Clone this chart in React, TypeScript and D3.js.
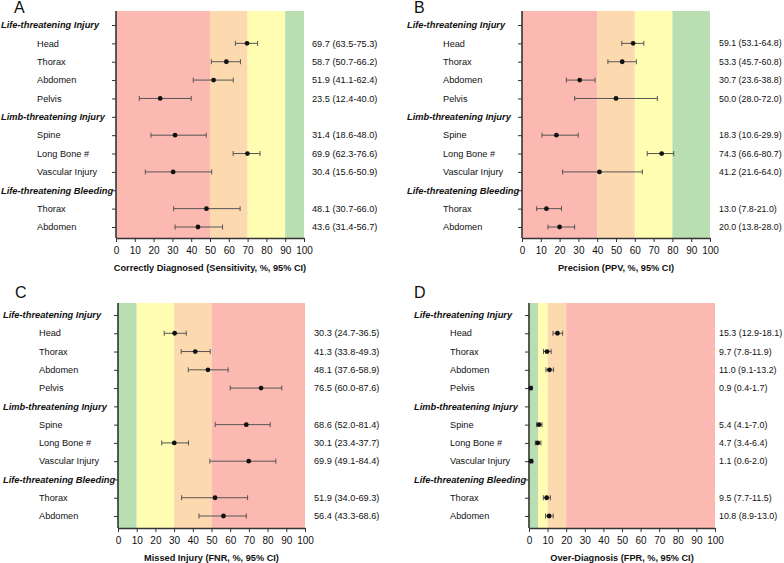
import * as d3 from "d3";
import React, { useEffect, useRef } from "react";

// row labels (headers are drawn bold italic)
const rowLabels = [
  "Life-threatening Injury",
  "Head",
  "Thorax",
  "Abdomen",
  "Pelvis",
  "Limb-threatening Injury",
  "Spine",
  "Long Bone #",
  "Vascular Injury",
  "Life-threatening Bleeding",
  "Thorax",
  "Abdomen",
];
const headerRows = [0, 5, 9];
const itemRows = [1, 2, 3, 4, 6, 7, 8, 10, 11];

// A: sensitivity
const sensEst = [69.7, 58.7, 51.9, 23.5, 31.4, 69.9, 30.4, 48.1, 43.6];
const sensLo = [63.5, 50.7, 41.1, 12.4, 18.6, 62.3, 15.6, 30.7, 31.4];
const sensHi = [75.3, 66.2, 62.4, 40.0, 48.0, 76.6, 50.9, 66.0, 56.7];

// B: precision
const ppvEst = [59.1, 53.3, 30.7, 50.0, 18.3, 74.3, 41.2, 13.0, 20.0];
const ppvLo = [53.1, 45.7, 23.6, 28.0, 10.6, 66.6, 21.6, 7.8, 13.8];
const ppvHi = [64.8, 60.8, 38.8, 72.0, 29.9, 80.7, 64.0, 21.0, 28.0];

// C: missed injury
const fnrEst = [30.3, 41.3, 48.1, 76.5, 68.6, 30.1, 69.9, 51.9, 56.4];
const fnrLo = [24.7, 33.8, 37.6, 60.0, 52.0, 23.4, 49.1, 34.0, 43.3];
const fnrHi = [36.5, 49.3, 58.9, 87.6, 81.4, 37.7, 84.4, 69.3, 68.6];

// D: over-diagnosis
const fprEst = [15.3, 9.7, 11.0, 0.9, 5.4, 4.7, 1.1, 9.5, 10.8];
const fprLo = [12.9, 7.8, 9.1, 0.4, 4.1, 3.4, 0.6, 7.7, 8.9];
const fprHi = [18.1, 11.9, 13.2, 1.7, 7.0, 6.4, 2.0, 11.5, 13.0];

const tickValues = [0, 10, 20, 30, 40, 50, 60, 70, 80, 90, 100];

// colour band breaks
const RED = "#fcb9b1";
const ORANGE = "#fdd9b0";
const YELLOW = "#fefdb2";
const GREEN = "#b9deb2";
const sensBands = [0, 50, 70, 90, 100];
const sensColors = [RED, ORANGE, YELLOW, GREEN];
const ppvBands = [0, 40, 60, 80, 100];
const ppvColors = [RED, ORANGE, YELLOW, GREEN];
const fnrBands = [0, 10, 30, 50, 100];
const fnrColors = [GREEN, YELLOW, ORANGE, RED];
const fprBands = [0, 5, 10, 20, 100];
const fprColors = [GREEN, YELLOW, ORANGE, RED];

const panels = [
  { letter: "A", est: sensEst, lo: sensLo, hi: sensHi, bands: sensBands, colors: sensColors,
    title: "Correctly Diagnosed (Sensitivity, %, 95% CI)",
    x0: 116, x1: 304, top: 11, bottom: 238, first: 25, last: 227, valX: 312, valSize: 9.2, lx: 14, ly: 13 },
  { letter: "B", est: ppvEst, lo: ppvLo, hi: ppvHi, bands: ppvBands, colors: ppvColors,
    title: "Precision (PPV, %, 95% CI)",
    x0: 522, x1: 710, top: 11, bottom: 238, first: 25, last: 227, valX: 719, valSize: 8.8, lx: 414, ly: 13 },
  { letter: "C", est: fnrEst, lo: fnrLo, hi: fnrHi, bands: fnrBands, colors: fnrColors,
    title: "Missed Injury (FNR, %, 95% CI)",
    x0: 118, x1: 305, top: 303, bottom: 528, first: 315, last: 516, valX: 314, valSize: 9.2, lx: 15, ly: 298 },
  { letter: "D", est: fprEst, lo: fprLo, hi: fprHi, bands: fprBands, colors: fprColors,
    title: "Over-Diagnosis (FPR, %, 95% CI)",
    x0: 529, x1: 715, top: 303, bottom: 528, first: 315, last: 516, valX: 719, valSize: 8.9, lx: 414, ly: 298 },
];

const FONT = "'Liberation Sans', Arial, Helvetica, sans-serif";

const App = () => {
  const svgRef = useRef(null);

  useEffect(() => {
    const svg = d3.select(svgRef.current);
    svg.selectAll("*").remove();
    svg.style("font-family", FONT);

    panels.forEach((p) => {
      const x = d3.scaleLinear().domain([0, 100]).range([p.x0, p.x1]);
      const y = d3.scalePoint().domain(d3.range(rowLabels.length)).range([p.first, p.last]);
      const g = svg.append("g");

      // background bands
      g.selectAll(".band")
        .data(p.colors)
        .enter()
        .append("rect")
        .attr("x", (d, i) => x(p.bands[i]))
        .attr("width", (d, i) => x(p.bands[i + 1]) - x(p.bands[i]))
        .attr("y", p.top)
        .attr("height", p.bottom - p.top)
        .attr("fill", (d) => d);

      // left axis ticks
      const yAxis = g
        .append("g")
        .attr("transform", `translate(${p.x0},0)`)
        .call(d3.axisLeft(y).tickSize(4).tickFormat(() => ""));
      yAxis.select(".domain").remove();
      yAxis.selectAll("line").attr("stroke", "#333");
      g.append("line")
        .attr("x1", p.x0).attr("x2", p.x0)
        .attr("y1", p.top).attr("y2", p.bottom)
        .attr("stroke", "#333")
        .attr("stroke-width", 1.6);

      // bottom axis
      const xAxis = g
        .append("g")
        .attr("transform", `translate(0,${p.bottom})`)
        .call(d3.axisBottom(x).tickValues(tickValues).tickSize(4).tickSizeOuter(0));
      xAxis.select(".domain").attr("stroke", "#333").attr("stroke-width", 1.4);
      xAxis.selectAll("line").attr("stroke", "#333");
      xAxis.selectAll("text")
        .attr("font-family", FONT)
        .attr("font-size", 10)
        .attr("fill", "#111")
        .attr("dy", "0.9em");

      g.append("text")
        .attr("x", (p.x0 + p.x1) / 2)
        .attr("y", p.bottom + 33)
        .attr("text-anchor", "middle")
        .attr("font-size", 9.2)
        .attr("font-weight", "bold")
        .attr("fill", "#111")
        .text(p.title);

      // row labels
      g.selectAll(".row")
        .data(rowLabels)
        .enter()
        .append("text")
        .attr("x", (d, i) => (headerRows.includes(i) ? p.x0 - 115 : p.x0 - 79))
        .attr("y", (d, i) => y(i))
        .attr("dy", "0.35em")
        .attr("font-size", (d, i) => (headerRows.includes(i) ? 9.3 : 9.2))
        .attr("font-weight", (d, i) => (headerRows.includes(i) ? "bold" : "normal"))
        .attr("font-style", (d, i) => (headerRows.includes(i) ? "italic" : "normal"))
        .attr("fill", "#111")
        .text((d) => d);

      // error bars and points
      itemRows.forEach((row, i) => {
        const cy = y(row);
        g.append("line")
          .attr("x1", x(p.lo[i])).attr("x2", x(p.hi[i]))
          .attr("y1", cy).attr("y2", cy)
          .attr("stroke", "#555");
        [p.lo[i], p.hi[i]].forEach((v) => {
          g.append("line")
            .attr("x1", x(v)).attr("x2", x(v))
            .attr("y1", cy - 2.5).attr("y2", cy + 2.5)
            .attr("stroke", "#555");
        });
        g.append("circle")
          .attr("cx", x(p.est[i]))
          .attr("cy", cy)
          .attr("r", 2.4)
          .attr("fill", "#111");

        g.append("text")
          .attr("x", p.valX)
          .attr("y", cy)
          .attr("dy", "0.35em")
          .attr("font-size", p.valSize)
          .attr("fill", "#111")
          .text(`${p.est[i].toFixed(1)} (${p.lo[i].toFixed(1)}-${p.hi[i].toFixed(1)})`);
      });

      g.append("text")
        .attr("x", p.lx)
        .attr("y", p.ly)
        .attr("font-size", 16)
        .attr("fill", "#111")
        .text(p.letter);
    });
  }, []);

  return (
    <svg
      ref={svgRef}
      width={784}
      height={563}
      style={{ position: "absolute", left: 0, top: 0, background: "#fff" }}
    ></svg>
  );
};

export default App;
